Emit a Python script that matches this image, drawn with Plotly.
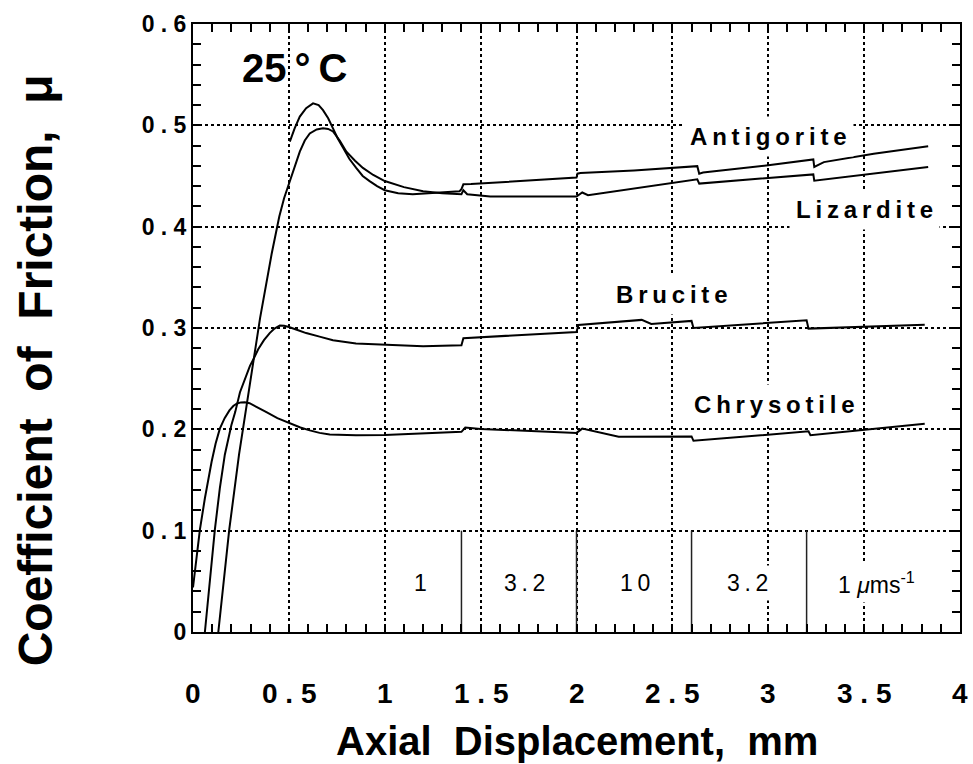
import plotly.graph_objects as go

# ---------------- data ----------------
antigorite_x = [0.505, 0.53, 0.557, 0.59, 0.626, 0.655, 0.678, 0.705, 0.73, 0.755, 0.782, 0.815,
                0.851, 0.885, 0.921, 0.96, 1.0, 1.07, 1.146, 1.23, 1.32, 1.39, 1.40, 1.41, 1.45,
                1.7, 2.0, 2.005, 2.02, 2.3, 2.63, 2.64, 2.66, 3.0, 3.235, 3.24, 3.29, 3.55, 3.834]
antigorite_y = [0.484, 0.497, 0.5086, 0.517, 0.5217, 0.520, 0.515, 0.507, 0.497, 0.487, 0.478, 0.467,
                0.458, 0.450, 0.445, 0.440, 0.436, 0.433, 0.432, 0.433, 0.434, 0.435, 0.437, 0.4418, 0.442,
                0.445, 0.4484, 0.4523, 0.453, 0.4555, 0.4597, 0.4523, 0.4535, 0.4605, 0.4663, 0.459, 0.4637, 0.472, 0.4793]

lizardite_x = [0.132, 0.16, 0.189, 0.24, 0.297, 0.35, 0.41, 0.43, 0.45, 0.475, 0.505, 0.53, 0.557, 0.583,
               0.609, 0.645, 0.678, 0.705, 0.73, 0.765, 0.8, 0.845, 0.886, 0.94, 1.0, 1.1, 1.2, 1.3,
               1.4, 1.41, 1.43, 1.55, 2.0, 2.03, 2.06, 2.63, 2.64, 3.235, 3.24, 3.834]
lizardite_y = [0.0, 0.05, 0.101, 0.175, 0.246, 0.31, 0.373, 0.393, 0.41, 0.428, 0.445, 0.461, 0.474, 0.485,
               0.492, 0.496, 0.497, 0.4965, 0.494, 0.485, 0.474, 0.465, 0.458, 0.451, 0.445, 0.439, 0.435, 0.433,
               0.432, 0.436, 0.432, 0.4298, 0.4298, 0.4337, 0.431, 0.4467, 0.4425, 0.4516, 0.4454, 0.4588]

brucite_x = [0.062, 0.088, 0.114, 0.14, 0.166, 0.2, 0.22, 0.245, 0.27, 0.297, 0.32, 0.34, 0.37, 0.40,
             0.425, 0.453, 0.475, 0.5, 0.545, 0.59, 0.66, 0.73, 0.85, 1.0, 1.2, 1.4, 1.41, 2.0, 2.01,
             2.34, 2.39, 2.6, 2.61, 3.2, 3.21, 3.816]
brucite_y = [0.0, 0.051, 0.101, 0.142, 0.175, 0.204, 0.217, 0.2366, 0.250, 0.2626, 0.271, 0.279, 0.288, 0.295,
             0.2995, 0.3024, 0.3022, 0.301, 0.298, 0.295, 0.2915, 0.288, 0.2848, 0.2835, 0.282, 0.283, 0.290,
             0.296, 0.303, 0.308, 0.304, 0.307, 0.300, 0.3076, 0.2994, 0.3033]

chrysotile_x = [0.0, 0.018, 0.036, 0.062, 0.08, 0.097, 0.118, 0.14, 0.165, 0.19, 0.21, 0.23, 0.25, 0.27,
                0.295, 0.32, 0.35, 0.383, 0.44, 0.505, 0.56, 0.609, 0.66, 0.713, 0.78, 0.85, 1.0, 1.2,
                1.4, 1.42, 1.5, 2.0, 2.03, 2.22, 2.6, 2.61, 3.21, 3.22, 3.816]
chrysotile_y = [0.044, 0.073, 0.101, 0.132, 0.152, 0.168, 0.186, 0.2007, 0.211, 0.2187, 0.223, 0.2255, 0.2266, 0.2268,
                0.2258, 0.2235, 0.2205, 0.217, 0.211, 0.2056, 0.2018, 0.199, 0.1965, 0.1948, 0.1942, 0.1942, 0.1945, 0.196,
                0.1975, 0.2017, 0.2004, 0.1965, 0.2007, 0.1926, 0.193, 0.1887, 0.198, 0.1942, 0.2056]

# velocity steps (mm) and labels (µm/s)
step_x = [1.4, 2.0, 2.6, 3.2]
velocity_label_x = [1.186, 1.727, 2.303, 2.892, 3.565]
velocity_labels = ["1", "3\u2009.\u20092", "1\u20090", "3\u2009.\u20092", "1 <i>\u03bc</i>ms<sup>-1</sup>"]

x_tickvals = [0, 0.5, 1, 1.5, 2, 2.5, 3, 3.5, 4]
x_ticktext = ["0", "0 . 5", "1", "1 . 5", "2", "2 . 5", "3", "3 . 5", "4"]
y_tickvals = [0, 0.1, 0.2, 0.3, 0.4, 0.5, 0.6]
y_ticktext = ["0", "0 . 1", "0 . 2", "0 . 3", "0 . 4", "0 . 5", "0 . 6"]
x_minor_step = 0.1
y_minor_step = 0.02

series_labels = ["Antigorite", "Lizardite", "Brucite", "Chrysotile"]
series_label_x = [3.0, 3.5, 2.5, 3.03]
series_label_y = [0.489, 0.4174, 0.3327, 0.2248]

FONT = "Liberation Sans, Arial, Helvetica, sans-serif"

def spaced(s):
    return "\u2009".join(list(s))

fig = go.Figure()
line_style = dict(color="black", width=2)
for xs, ys, name in [(antigorite_x, antigorite_y, "Antigorite"),
                     (lizardite_x, lizardite_y, "Lizardite"),
                     (brucite_x, brucite_y, "Brucite"),
                     (chrysotile_x, chrysotile_y, "Chrysotile")]:
    fig.add_trace(go.Scatter(x=xs, y=ys, mode="lines", line=line_style, name=name,
                             showlegend=False, hoverinfo="skip"))

# velocity step markers
sx, sy = [], []
for v in step_x:
    sx += [v, v, None]
    sy += [0, 0.1, None]
fig.add_trace(go.Scatter(x=sx, y=sy, mode="lines", line=dict(color="#222", width=1.5),
                         showlegend=False, hoverinfo="skip"))

annotations = []
for t, x, y in zip(series_labels, series_label_x, series_label_y):
    annotations.append(dict(x=x, y=y, xref="x", yref="y", text="<b>" + spaced(t) + "</b>",
                            showarrow=False, font=dict(family=FONT, size=24, color="black"),
                            bgcolor="white", borderpad=6))
for t, x in zip(velocity_labels, velocity_label_x):
    annotations.append(dict(x=x, y=0.048, xref="x", yref="y", text=t, showarrow=False,
                            font=dict(family=FONT, size=23, color="black"),
                            bgcolor="white", borderpad=4))
# x tick labels, placed on the x scale below the axis
for v, t in zip(x_tickvals, x_ticktext):
    annotations.append(dict(x=v, y=0, xref="x", yref="y", text="<b>" + t + "</b>", showarrow=False,
                            xanchor="center", yanchor="middle", yshift=-61,
                            font=dict(family=FONT, size=28, color="black")))
annotations.append(dict(x=0.53, y=0.557, xref="x", yref="y", text="<b>25\u2009°\u2009C</b>", showarrow=False,
                        font=dict(family=FONT, size=40, color="black")))
annotations.append(dict(x=0.5, y=-0.179, xref="paper", yref="paper",
                        text="<b>Axial  Displacement,  mm</b>", showarrow=False,
                        xanchor="center", yanchor="middle",
                        font=dict(family=FONT, size=40, color="black")))
annotations.append(dict(x=-0.205, y=0.43, xref="paper", yref="paper",
                        text="<b>Coefficient  of  Friction,  \u03bc</b>", showarrow=False,
                        textangle=-90, xanchor="center", yanchor="middle",
                        font=dict(family=FONT, size=48, color="black")))

axis_common = dict(showline=True, linecolor="black", linewidth=2, mirror="allticks",
                   ticks="inside", ticklen=8, tickwidth=1.5, tickcolor="black",
                   showgrid=True, gridcolor="black", gridwidth=1.5, griddash="dot",
                   zeroline=False)

fig.update_layout(
    width=973, height=764,
    margin=dict(l=193, r=11, t=18, b=132),
    paper_bgcolor="white", plot_bgcolor="white",
    xaxis=dict(range=[0, 4], tickmode="array", tickvals=x_tickvals, showticklabels=False,
               minor=dict(dtick=x_minor_step, ticks="inside", ticklen=8, tickwidth=1.5, tickcolor="black"),
               **axis_common),
    yaxis=dict(range=[0, 0.6], tickmode="array", tickvals=y_tickvals,
               ticktext=["<b>" + t + "</b>" for t in y_ticktext],
               minor=dict(dtick=y_minor_step, ticks="inside", ticklen=8, tickwidth=1.5, tickcolor="black"),
               tickfont=dict(family=FONT, size=23, color="black"),
               **axis_common),
    annotations=annotations,
)

fig.write_html("out.html")
